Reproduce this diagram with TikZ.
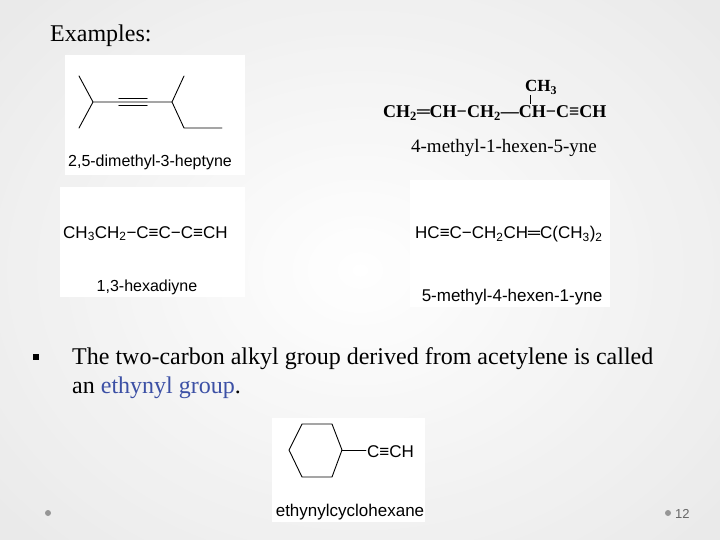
\documentclass[tikz,border=0pt]{standalone}
\usepackage{fontspec}
\setmainfont{Liberation Serif}[Ligatures=TeX]
\newfontfamily\arial{Liberation Sans}[Ligatures=TeX]
\definecolor{linkblue}{RGB}{60,80,165}
\definecolor{dotgray}{RGB}{150,150,150}
\tikzset{
  imgbox/.style={fill=white,draw=none},
  bond/.style={line width=1.1pt,line cap=round},
  lab/.style={font=\arial\fontsize{17}{17}\selectfont,inner sep=0pt,anchor=base},
  chem/.style={font=\arial\fontsize{17}{17}\selectfont,inner sep=0pt,anchor=base west},
  serif/.style={font=\fontsize{24}{28}\selectfont,inner sep=0pt,anchor=base west}
}
\begin{document}
\begin{tikzpicture}[x=1pt,y=-1pt]
\useasboundingbox (0,0) rectangle (720,540);
\shade[inner color=white,outer color=black!12] (-100,-100) rectangle (820,640);
\fill[white,opacity=0.35] (0,0) rectangle (720,540);
\node[serif] (ex) at (50,42) {Examples:};
% box 1
\node[imgbox,minimum width=180,minimum height=120,anchor=north west] (b1) at (65,55) {};
\coordinate (a1) at (79,76); \coordinate (a2) at (93,102); \coordinate (a3) at (79,128);
\coordinate (a4) at (119,102); \coordinate (a5) at (147,102); \coordinate (a6) at (172,102);
\coordinate (a7) at (184,76); \coordinate (a8) at (184,128); \coordinate (a9) at (222,128);
\draw[bond,line width=0.9pt] (a1)--(a2)--(a3) (a2)--(a6)--(a7) (a6)--(a8)--(a9);
\draw[bond] (a4)++(0,-3.5)--++(28,0) (a4)++(0,3.5)--++(28,0);
\node[lab,font=\arial\fontsize{16}{16}\selectfont] (l1) at (150,167) {2,5-dimethyl-3-heptyne};
% top right
\node[font=\bfseries\fontsize{18}{18}\selectfont,inner sep=0pt,anchor=base west] (f1) at (383,118) {CH\textsubscript{2}═CH−CH\textsubscript{2}—CH−C≡CH};
\node[font=\bfseries\fontsize{17}{17}\selectfont,inner sep=0pt,anchor=base west] (ch3) at (525,92) {CH\textsubscript{3}};
\draw[line width=0.8pt] (530,95) -- (530,104);
\node[font=\fontsize{19}{19}\selectfont,inner sep=0pt,anchor=base] (l2) at (504,153) {4-methyl-1-hexen-5-yne};
% box 2
\node[imgbox,minimum width=185,minimum height=110,anchor=north west] (b2) at (60,187) {};
\node[chem] (f2) at (63,238) {CH\textsubscript{3}CH\textsubscript{2}−C≡C−C≡CH};
\node[lab,font=\arial\fontsize{16}{16}\selectfont] (l3) at (147,291) {1,3-hexadiyne};
% box 3
\node[imgbox,minimum width=200,minimum height=127,anchor=north west] (b3) at (410,180) {};
\node[chem] (f3) at (415,239) {HC≡C−CH\textsubscript{2}CH═C(CH\textsubscript{3})\textsubscript{2}};
\node[lab] (l4) at (512,301) {5-methyl-4-hexen-1-yne};
% bullet text
\node[fill=black,minimum size=6,inner sep=0pt] (bul) at (36,357) {};
\node[serif] (t1) at (72,364) {The two-carbon alkyl group derived from acetylene is called};
\node[serif] (t2) at (72,393) {an \textcolor{linkblue}{ethynyl group}.};
% box 4
\node[imgbox,minimum width=153,minimum height=104,anchor=north west] (b4) at (272,418) {};
\draw[bond,line width=0.9pt,line join=round] (302,424)--(332,424)--(342,450)--(332,477)--(302,477)--(289,450)--cycle;
\draw[bond,line width=0.9pt] (342,450)--(366,450);
\node[chem] (f4) at (367,457) {C≡CH};
\node[lab] (l5) at (350,516) {ethynylcyclohexane};
% footer
\fill[dotgray] (48,513) circle (3);
\fill[dotgray] (668,513) circle (3);
\node[font=\arial\fontsize{13}{13}\selectfont,text=black!60,inner sep=0pt,anchor=base west] (pg) at (675,518) {12};
\end{tikzpicture}
\end{document}
